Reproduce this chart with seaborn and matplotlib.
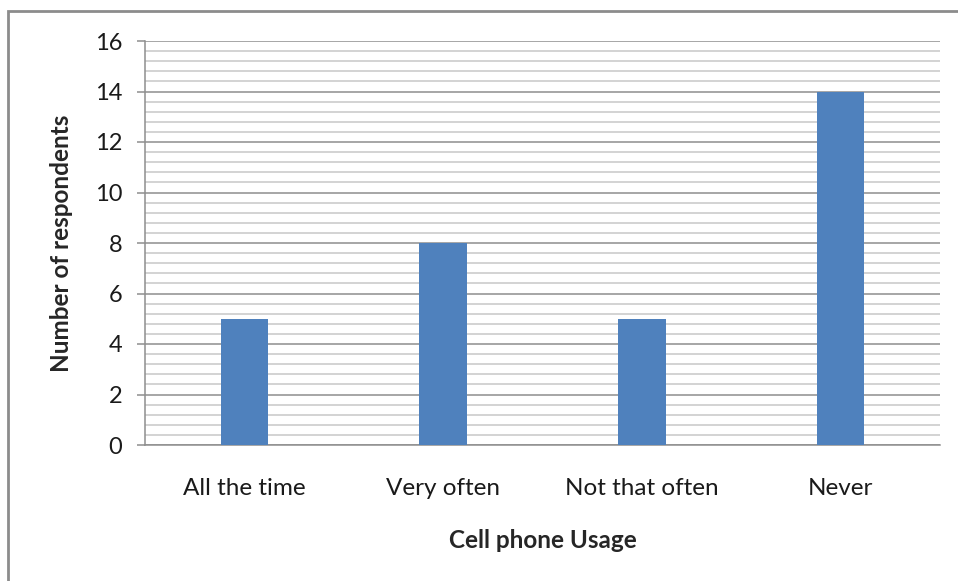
import seaborn as sns
import matplotlib.pyplot as plt
import pandas as pd
from matplotlib.patches import Rectangle
from matplotlib.ticker import MultipleLocator

usage = ['All the time', 'Very often', 'Not that often', 'Never']
respondents = [5, 8, 5, 14]

df = pd.DataFrame({'usage': usage, 'respondents': respondents})

sns.set_style('white')
plt.rcParams['font.family'] = ['Lato', 'DejaVu Sans']

fig = plt.figure(figsize=(9.58, 5.81), dpi=100)
ax = fig.add_axes([145 / 958, 136 / 581, 795 / 958, 404 / 581])

# outer chart frame (cut off at right and bottom like the original)
fig.patches.append(Rectangle((8 / 958, -0.1), 1.2, 1 - 11 / 581 + 0.1,
                             transform=fig.transFigure, fill=False,
                             edgecolor='#8c8c8c', linewidth=2))

sns.barplot(data=df, x='usage', y='respondents', color='#4F81BD',
            width=0.24, saturation=1, linewidth=0, ax=ax, zorder=3)

ax.set_xlim(-0.5, 3.5)
ax.set_ylim(0, 16)
ax.yaxis.set_major_locator(MultipleLocator(2))
ax.yaxis.set_minor_locator(MultipleLocator(0.4))
ax.grid(which='major', axis='y', color='#8e8e8e', linewidth=1.1, zorder=0)
ax.grid(which='minor', axis='y', color='#c8c8c8', linewidth=1.1, zorder=0)
ax.set_axisbelow(True)

for side in ['top', 'right']:
    ax.spines[side].set_visible(False)
for side in ['left', 'bottom']:
    ax.spines[side].set_color('#8e8e8e')
    ax.spines[side].set_linewidth(1.1)

ax.tick_params(axis='y', which='major', left=True, length=5.8, width=1.1,
               color='#8e8e8e', labelsize=17, pad=10.5, labelcolor='#1a1a1a')
ax.tick_params(axis='y', which='minor', left=False)
ax.tick_params(axis='x', bottom=False, labelsize=17.5, pad=20.5, labelcolor='#1a1a1a')

ax.set_xlabel('Cell phone Usage', fontsize=17.5, fontweight='bold', labelpad=21)
ax.set_ylabel('Number of respondents', fontsize=17.5, fontweight='bold', labelpad=16)

fig.savefig('out.png', dpi=100, facecolor='white')
